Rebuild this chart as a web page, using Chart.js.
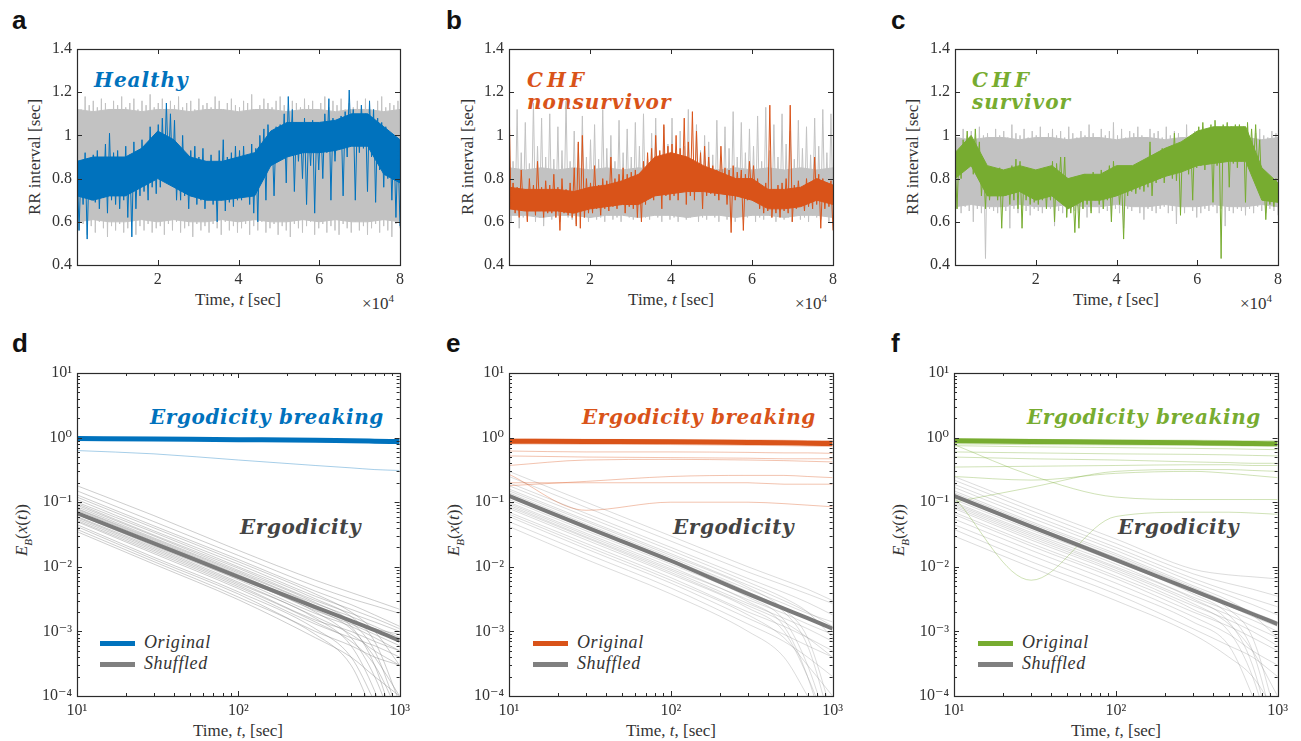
<!DOCTYPE html>
<html>
<head>
<meta charset="utf-8">
<script src="https://cdn.jsdelivr.net/npm/chart.js@4.4.1/dist/chart.umd.min.js"></script>
<style>
  body { margin: 0; background: #fff; }
  #fig { position: relative; width: 1301px; height: 741px; overflow: hidden; font-family: "Liberation Serif", "Times New Roman", Times, "DejaVu Serif", serif; color: #333; }
  #fig canvas { position: absolute; }
  .lab { position: absolute; font-family: "Liberation Sans", Arial, sans-serif; font-weight: bold; font-size: 26px; line-height: 26px; color: #111; }
  .note { position: absolute; font-family: "DejaVu Serif", serif; font-weight: bold; font-style: italic; font-size: 20px; line-height: 22px; letter-spacing: 0.6px; white-space: nowrap; }
  .xt { position: absolute; font-size: 17px; line-height: 18px; white-space: nowrap; transform: translateX(-50%); }
  .yt { position: absolute; font-size: 17px; line-height: 18px; white-space: nowrap; transform: translate(-50%, -50%) rotate(-90deg); }
  .mult { position: absolute; font-size: 17px; line-height: 18px; white-space: nowrap; }
  .leg { position: absolute; font-style: italic; font-size: 18px; line-height: 20px; letter-spacing: 0.6px; white-space: nowrap; }
  .leg span { display: inline-block; width: 35px; height: 5px; vertical-align: middle; margin-right: 9px; }
</style>
</head>
<body>
<div id="fig">
  <div class="lab" style="left:12px;top:7px">a</div>
  <div class="lab" style="left:446px;top:7px">b</div>
  <div class="lab" style="left:891px;top:7px">c</div>
  <div class="lab" style="left:12px;top:330px">d</div>
  <div class="lab" style="left:446px;top:330px">e</div>
  <div class="lab" style="left:891px;top:330px">f</div>

  <div class="note" style="left:94px;top:69px;color:#0072BD;letter-spacing:1px">Healthy</div>
  <div class="note" style="left:527px;top:69px;color:#D95319;letter-spacing:4px">CHF</div>
  <div class="note" style="left:527px;top:91px;color:#D95319;letter-spacing:1px">nonsurvivor</div>
  <div class="note" style="left:972px;top:69px;color:#77AC30;letter-spacing:4px">CHF</div>
  <div class="note" style="left:972px;top:91px;color:#77AC30;letter-spacing:1px">survivor</div>

  <div class="note" style="left:150px;top:406px;color:#0072BD">Ergodicity breaking</div>
  <div class="note" style="left:582px;top:406px;color:#D95319">Ergodicity breaking</div>
  <div class="note" style="left:1027px;top:406px;color:#77AC30">Ergodicity breaking</div>
  <div class="note" style="left:240px;top:516px;color:#444">Ergodicity</div>
  <div class="note" style="left:673px;top:516px;color:#444">Ergodicity</div>
  <div class="note" style="left:1118px;top:516px;color:#444">Ergodicity</div>

  <div class="xt" style="left:238px;top:291px">Time, <i>t</i> [sec]</div>
  <div class="xt" style="left:671px;top:291px">Time, <i>t</i> [sec]</div>
  <div class="xt" style="left:1116px;top:291px">Time, <i>t</i> [sec]</div>
  <div class="mult" style="left:362px;top:289px">×10<sup style="font-size:11px">4</sup></div>
  <div class="mult" style="left:795px;top:289px">×10<sup style="font-size:11px">4</sup></div>
  <div class="mult" style="left:1240px;top:289px">×10<sup style="font-size:11px">4</sup></div>
  <div class="yt" style="left:35px;top:157px">RR interval [sec]</div>
  <div class="yt" style="left:468px;top:157px">RR interval [sec]</div>
  <div class="yt" style="left:913px;top:157px">RR interval [sec]</div>

  <div class="xt" style="left:238px;top:722px">Time, <i>t</i>, [sec]</div>
  <div class="xt" style="left:671px;top:722px">Time, <i>t</i>, [sec]</div>
  <div class="xt" style="left:1116px;top:722px">Time, <i>t</i>, [sec]</div>
  <div class="yt" style="left:25px;top:530px"><i>E<sub style="font-size:11px">B</sub></i>(<i>x</i>(<i>t</i>))</div>
  <div class="yt" style="left:457px;top:530px"><i>E<sub style="font-size:11px">B</sub></i>(<i>x</i>(<i>t</i>))</div>
  <div class="yt" style="left:902px;top:530px"><i>E<sub style="font-size:11px">B</sub></i>(<i>x</i>(<i>t</i>))</div>

  <div class="leg" style="left:100px;top:632px"><span style="background:#0072BD"></span>Original</div>
  <div class="leg" style="left:100px;top:653px"><span style="background:#808080"></span>Shuffled</div>
  <div class="leg" style="left:533px;top:632px"><span style="background:#D95319"></span>Original</div>
  <div class="leg" style="left:533px;top:653px"><span style="background:#808080"></span>Shuffled</div>
  <div class="leg" style="left:978px;top:632px"><span style="background:#77AC30"></span>Original</div>
  <div class="leg" style="left:978px;top:653px"><span style="background:#808080"></span>Shuffled</div>
</div>
<script>
// RR series: spike extremes per 1000 s window
const healthyHi = [
  0.90,0.86,0.92,0.88,0.91,0.93,0.89,0.96,1.01,0.92,
  0.93,0.90,0.95,0.91,0.97,0.92,0.98,0.95,1.04,0.99,
  1.05,1.08,1.15,1.10,1.07,0.92,1.00,0.90,0.93,0.95,
  0.90,0.94,0.88,0.91,0.87,0.93,0.98,0.90,0.92,0.95,
  0.93,0.95,0.90,0.96,0.94,1.00,1.03,1.05,1.01,1.04,
  1.05,1.10,1.18,1.12,1.06,1.04,1.08,1.02,1.07,1.05,
  1.06,1.10,1.17,1.08,1.05,1.09,1.11,1.21,1.12,1.08,
  1.14,1.10,1.16,1.12,1.08,1.06,1.04,1.00,0.98,0.94];
const healthyLo = [
  0.56,0.68,0.52,0.70,0.69,0.66,0.71,0.64,0.70,0.68,
  0.66,0.70,0.62,0.53,0.66,0.72,0.74,0.70,0.76,0.73,
  0.76,0.82,0.84,0.80,0.70,0.70,0.72,0.66,0.72,0.68,
  0.70,0.66,0.72,0.68,0.60,0.70,0.65,0.69,0.67,0.70,
  0.70,0.72,0.68,0.64,0.60,0.84,0.70,0.86,0.72,0.88,
  0.90,0.78,0.92,0.74,0.88,0.80,0.68,0.86,0.64,0.84,
  0.80,0.92,0.70,0.88,0.94,0.72,0.90,0.95,0.70,0.92,
  0.94,0.74,0.90,0.69,0.84,0.76,0.80,0.70,0.62,0.58];
// dense core of the trace, per 4000 s
const healthyCoreHi = [0.88,0.90,0.90,0.90,0.94,1.02,0.98,0.90,0.88,0.88,0.90,0.92,1.02,1.06,1.06,1.06,1.07,1.10,1.10,1.04,0.98];
const healthyCoreLo = [0.72,0.70,0.72,0.72,0.76,0.80,0.76,0.72,0.70,0.70,0.71,0.72,0.86,0.90,0.92,0.92,0.93,0.95,0.95,0.82,0.78];
const healthyShufHi = [
  1.15,1.12,1.18,1.14,1.16,1.13,1.17,1.15,1.12,1.16,
  1.14,1.18,1.13,1.15,1.17,1.12,1.16,1.14,1.19,1.13,
  1.15,1.17,1.12,1.16,1.14,1.18,1.13,1.15,1.16,1.12,
  1.17,1.14,1.15,1.13,1.18,1.16,1.12,1.15,1.17,1.14,
  1.13,1.16,1.15,1.19,1.12,1.14,1.17,1.15,1.13,1.16,
  1.18,1.14,1.12,1.16,1.15,1.13,1.17,1.14,1.16,1.12,
  1.15,1.18,1.13,1.16,1.14,1.17,1.12,1.15,1.13,1.16,
  1.14,1.17,1.15,1.12,1.16,1.18,1.13,1.15,1.14,1.16];
const healthyShufLo = [
  0.56,0.59,0.54,0.58,0.55,0.60,0.57,0.53,0.58,0.56,
  0.59,0.55,0.57,0.60,0.54,0.58,0.56,0.59,0.55,0.57,
  0.58,0.54,0.59,0.56,0.60,0.55,0.57,0.58,0.53,0.59,
  0.56,0.58,0.55,0.59,0.57,0.54,0.60,0.56,0.58,0.55,
  0.57,0.59,0.54,0.58,0.56,0.60,0.55,0.57,0.59,0.54,
  0.58,0.56,0.53,0.59,0.57,0.55,0.58,0.60,0.54,0.57,
  0.59,0.55,0.58,0.56,0.54,0.59,0.57,0.55,0.60,0.56,
  0.58,0.54,0.57,0.59,0.55,0.58,0.56,0.53,0.59,0.57];
const healthyShufCoreHi = [1.12,1.11,1.12,1.12,1.11,1.12,1.12,1.11,1.12,1.12,1.11,1.12,1.12,1.11,1.12,1.12,1.11,1.12,1.12,1.11,1.12];
const healthyShufCoreLo = [0.60,0.61,0.60,0.60,0.61,0.60,0.61,0.60,0.60,0.61,0.60,0.61,0.60,0.60,0.61,0.60,0.61,0.60,0.60,0.61,0.60];

const nonsurvHi = [
  1.17,0.78,0.76,0.84,0.75,0.80,0.77,0.88,0.76,0.79,
  0.77,0.82,0.76,0.80,0.75,0.78,0.85,0.97,1.00,0.80,
  0.78,0.86,0.77,0.80,0.79,0.90,0.80,0.82,0.85,0.82,
  0.83,0.84,0.82,0.88,0.92,0.94,1.00,0.93,1.05,0.95,
  0.96,1.00,0.94,1.08,0.97,1.11,1.02,0.92,0.95,0.90,
  0.86,0.84,0.95,0.85,0.84,0.86,0.83,0.84,0.82,0.88,
  0.86,0.80,0.76,0.78,1.14,0.75,0.77,0.78,0.80,1.14,
  0.77,0.79,0.76,0.80,0.78,0.90,0.82,0.80,0.78,0.79];
const nonsurvLo = [
  0.66,0.64,0.62,0.66,0.60,0.65,0.63,0.66,0.62,0.64,
  0.64,0.62,0.56,0.64,0.63,0.62,0.58,0.57,0.62,0.64,
  0.64,0.66,0.63,0.66,0.65,0.67,0.66,0.68,0.64,0.67,
  0.66,0.62,0.60,0.68,0.72,0.70,0.74,0.66,0.72,0.70,
  0.72,0.70,0.74,0.68,0.72,0.70,0.74,0.66,0.72,0.73,
  0.72,0.70,0.74,0.68,0.55,0.70,0.72,0.56,0.70,0.72,
  0.70,0.66,0.64,0.65,0.62,0.64,0.62,0.65,0.64,0.60,
  0.66,0.68,0.65,0.67,0.66,0.68,0.57,0.66,0.67,0.56];
const nonsurvCoreHi = [0.76,0.75,0.75,0.75,0.74,0.76,0.77,0.79,0.82,0.90,0.92,0.90,0.86,0.83,0.80,0.80,0.75,0.75,0.76,0.80,0.77];
const nonsurvCoreLo = [0.66,0.65,0.65,0.65,0.64,0.66,0.67,0.68,0.68,0.72,0.73,0.74,0.74,0.73,0.72,0.70,0.66,0.66,0.67,0.70,0.68];
const nonsurvShufHi = [
  1.02,0.88,1.12,0.92,1.06,0.87,1.15,0.95,1.08,0.90,
  1.10,0.89,1.04,0.93,1.16,0.88,1.02,0.96,1.09,0.90,
  0.98,1.05,0.89,1.12,0.94,1.00,0.88,1.07,0.92,1.03,
  0.90,1.06,0.95,1.10,0.89,1.01,1.08,0.92,1.04,0.96,
  1.08,0.90,1.02,0.95,1.12,0.89,1.05,0.93,1.00,0.97,
  0.91,1.07,0.89,1.04,0.94,1.11,0.90,1.06,0.92,1.03,
  0.95,1.09,0.88,1.13,0.93,1.05,0.90,1.10,0.96,1.02,
  0.89,1.07,0.94,1.04,0.91,1.08,0.95,1.12,0.92,1.10];
const nonsurvShufLo = [
  0.60,0.63,0.57,0.62,0.61,0.63,0.60,0.62,0.58,0.63,
  0.61,0.62,0.60,0.63,0.62,0.61,0.59,0.63,0.62,0.60,
  0.63,0.61,0.62,0.60,0.63,0.61,0.62,0.60,0.63,0.62,
  0.61,0.63,0.60,0.62,0.61,0.63,0.62,0.60,0.63,0.61,
  0.62,0.60,0.63,0.61,0.62,0.63,0.60,0.62,0.61,0.63,
  0.62,0.60,0.63,0.61,0.62,0.60,0.63,0.61,0.62,0.63,
  0.60,0.62,0.61,0.63,0.62,0.60,0.63,0.61,0.62,0.60,
  0.63,0.61,0.62,0.60,0.63,0.62,0.61,0.63,0.60,0.62];
const nonsurvShufCoreHi = [0.85,0.84,0.85,0.84,0.85,0.84,0.85,0.84,0.85,0.84,0.85,0.84,0.85,0.84,0.85,0.84,0.85,0.84,0.85,0.84,0.85];
const nonsurvShufCoreLo = [0.63,0.63,0.62,0.63,0.63,0.62,0.63,0.63,0.62,0.63,0.63,0.62,0.63,0.63,0.62,0.63,0.63,0.62,0.63,0.63,0.62];

const survHi = [
  0.90,0.93,0.98,1.02,0.99,1.03,0.97,0.86,0.85,0.84,
  0.83,0.85,0.82,0.84,0.86,0.89,0.88,0.84,0.82,0.83,
  0.84,0.82,0.85,0.83,0.88,0.87,0.90,0.90,0.78,0.76,
  0.78,0.80,0.82,0.80,0.83,0.81,0.84,0.82,0.86,0.88,
  0.82,0.80,0.84,0.85,0.86,0.85,0.88,0.87,0.97,0.90,
  0.92,0.94,0.93,0.95,1.01,0.96,0.97,0.98,0.99,1.00,
  1.04,1.06,1.03,1.05,1.07,1.02,1.05,1.06,1.04,1.05,
  1.05,1.04,1.06,1.03,1.05,0.98,0.82,0.78,0.77,0.80];
const survLo = [
  0.66,0.80,0.84,0.86,0.82,0.85,0.72,0.66,0.70,0.72,
  0.70,0.57,0.72,0.68,0.70,0.66,0.57,0.70,0.68,0.69,
  0.68,0.70,0.66,0.70,0.60,0.74,0.72,0.62,0.64,0.55,
  0.57,0.66,0.68,0.64,0.70,0.68,0.66,0.70,0.60,0.74,
  0.68,0.52,0.72,0.74,0.73,0.75,0.74,0.76,0.72,0.78,
  0.80,0.78,0.82,0.80,0.79,0.63,0.84,0.82,0.70,0.85,
  0.86,0.84,0.88,0.69,0.86,0.43,0.88,0.76,0.87,0.85,
  0.88,0.69,0.87,0.86,0.84,0.74,0.61,0.68,0.67,0.69];
const survCoreHi = [0.92,1.00,0.86,0.84,0.86,0.84,0.86,0.80,0.82,0.82,0.86,0.86,0.90,0.94,0.97,1.02,1.04,1.04,1.04,0.85,0.78];
const survCoreLo = [0.80,0.86,0.72,0.72,0.74,0.70,0.72,0.66,0.70,0.70,0.72,0.75,0.78,0.81,0.83,0.86,0.87,0.88,0.88,0.70,0.69];
const survShufHi = [
  1.01,0.99,1.03,1.00,1.02,0.99,1.04,1.00,1.01,0.98,
  1.03,1.00,1.02,0.99,1.05,1.01,1.00,1.03,0.99,1.02,
  1.00,1.04,0.99,1.01,1.03,1.00,1.02,0.99,1.04,1.01,
  0.99,1.02,1.00,1.05,1.01,0.99,1.03,1.00,1.02,1.06,
  1.00,1.03,0.99,1.02,1.01,1.04,1.00,0.99,1.03,1.01,
  1.02,0.99,1.04,1.00,1.02,1.01,0.99,1.05,1.00,1.02,
  1.01,1.04,0.99,1.02,1.00,1.03,1.01,0.99,1.02,1.00,
  1.03,1.00,1.02,0.99,1.01,1.03,1.00,0.99,1.02,1.01];
const survShufLo = [
  0.66,0.64,0.67,0.65,0.60,0.66,0.64,0.43,0.66,0.65,
  0.64,0.67,0.65,0.57,0.66,0.64,0.67,0.65,0.63,0.66,
  0.65,0.64,0.67,0.66,0.58,0.65,0.64,0.66,0.67,0.65,
  0.64,0.66,0.62,0.65,0.67,0.64,0.66,0.65,0.60,0.66,
  0.64,0.57,0.66,0.65,0.67,0.64,0.61,0.66,0.65,0.64,
  0.66,0.67,0.64,0.65,0.59,0.66,0.64,0.67,0.65,0.62,
  0.64,0.66,0.65,0.67,0.64,0.66,0.58,0.65,0.64,0.66,
  0.65,0.63,0.66,0.64,0.67,0.65,0.64,0.66,0.65,0.63];
const survShufCoreHi = [0.99,0.98,0.99,0.99,0.98,0.99,0.99,0.98,0.99,0.99,0.98,0.99,0.99,0.98,0.99,0.99,0.98,0.99,0.99,0.98,0.99];
const survShufCoreLo = [0.67,0.68,0.67,0.67,0.68,0.67,0.67,0.68,0.67,0.67,0.68,0.67,0.67,0.68,0.67,0.67,0.68,0.67,0.67,0.68,0.67];

const rrXTicks = [20000, 40000, 60000, 80000];
const rrYTicks = [0.4, 0.6, 0.8, 1, 1.2, 1.4];

// Ergodicity curves, sampled at these times
const logTime = [10, 30, 100, 300, 500, 700, 1000];
const logXTicks = [10, 100, 1000];
const logYTicks = [1e-4, 1e-3, 1e-2, 1e-1, 1, 10];

const healthyOrigMean = [0.97, 0.95, 0.93, 0.91, 0.89, 0.88, 0.87];
const healthyOrigLines = [
  [1.00, 0.98, 0.96, 0.95, 0.94, 0.93, 0.93],
  [0.93, 0.91, 0.89, 0.87, 0.85, 0.84, 0.82],
  [0.98, 0.96, 0.94, 0.92, 0.91, 0.90, 0.89],
  [0.63, 0.56, 0.45, 0.37, 0.34, 0.32, 0.31]];
const healthyShufMean = [0.068, 0.023, 0.0070, 0.00237, 0.00146, 0.00105, 0.00072];
const healthyShufLines = [
  [0.18, 0.062, 0.018, 0.0062, 0.0040, 0.0030, 0.0022],
  [0.15, 0.050, 0.015, 0.0050, 0.0032, 0.0025, 0.0019],
  [0.13, 0.043, 0.013, 0.0042, 0.0026, 0.0018, 0.0012],
  [0.12, 0.040, 0.012, 0.0038, 0.0020, 0.0010, 0.00030],
  [0.11, 0.036, 0.011, 0.0035, 0.0022, 0.0016, 0.0011],
  [0.10, 0.034, 0.010, 0.0032, 0.0017, 0.0007, 0.00008],
  [0.095, 0.031, 0.0095, 0.0030, 0.0019, 0.0014, 0.0010],
  [0.09, 0.030, 0.0088, 0.0028, 0.0014, 0.0005, 0.00005],
  [0.085, 0.028, 0.0084, 0.0027, 0.0017, 0.0012, 0.0008],
  [0.08, 0.027, 0.0080, 0.0025, 0.0012, 0.0003, 0.00002],
  [0.078, 0.026, 0.0076, 0.0024, 0.0015, 0.0011, 0.0009],
  [0.075, 0.025, 0.0073, 0.0022, 0.0011, 0.0004, 0.0001],
  [0.07, 0.023, 0.0069, 0.0021, 0.0013, 0.0009, 0.0006],
  [0.068, 0.022, 0.0066, 0.0020, 0.0008, 0.0002, 0.00002],
  [0.065, 0.021, 0.0063, 0.0019, 0.0012, 0.0008, 0.0005],
  [0.06, 0.020, 0.0058, 0.0017, 0.0009, 0.0005, 0.0003],
  [0.058, 0.019, 0.0055, 0.0016, 0.0006, 0.00012, 0.00001],
  [0.055, 0.018, 0.0052, 0.0015, 0.0010, 0.0007, 0.0005],
  [0.052, 0.017, 0.0049, 0.0014, 0.0007, 0.0003, 0.00005],
  [0.05, 0.016, 0.0046, 0.0013, 0.0008, 0.0006, 0.0004],
  [0.045, 0.014, 0.0041, 0.0011, 0.0004, 0.00008, 0.00001],
  [0.042, 0.013, 0.0038, 0.0010, 0.0006, 0.0004, 0.0003],
  [0.038, 0.012, 0.0034, 0.0009, 0.0003, 0.00005, 0.00001],
  [0.035, 0.011, 0.0031, 0.0008, 0.0004, 0.0002, 0.0001]];

const nonsurvOrigMean = [0.88, 0.87, 0.86, 0.84, 0.83, 0.82, 0.81];
const nonsurvOrigLines = [
  [0.95, 0.94, 0.93, 0.92, 0.91, 0.90, 0.90],
  [0.80, 0.79, 0.78, 0.76, 0.75, 0.74, 0.73],
  [0.92, 0.91, 0.89, 0.88, 0.87, 0.86, 0.86],
  [0.62, 0.60, 0.60, 0.59, 0.58, 0.58, 0.57],
  [0.37, 0.45, 0.46, 0.45, 0.44, 0.43, 0.42],
  [0.52, 0.50, 0.49, 0.48, 0.47, 0.47, 0.47],
  [0.18, 0.21, 0.25, 0.26, 0.26, 0.25, 0.24],
  [0.20, 0.20, 0.20, 0.20, 0.19, 0.19, 0.19],
  [0.27, 0.075, 0.10, 0.10, 0.095, 0.09, 0.085]];
const nonsurvShufMean = [0.125, 0.041, 0.0124, 0.0038, 0.00225, 0.0016, 0.0011];
const nonsurvShufLines = [
  [0.30, 0.10, 0.030, 0.010, 0.0062, 0.0045, 0.0030],
  [0.25, 0.083, 0.025, 0.0083, 0.0052, 0.0038, 0.0027],
  [0.20, 0.067, 0.020, 0.0066, 0.0040, 0.0028, 0.0018],
  [0.18, 0.060, 0.018, 0.0058, 0.0033, 0.0020, 0.0008],
  [0.16, 0.053, 0.016, 0.0052, 0.0030, 0.0020, 0.0012],
  [0.15, 0.050, 0.015, 0.0048, 0.0022, 0.0008, 0.00005],
  [0.14, 0.046, 0.014, 0.0045, 0.0027, 0.0019, 0.0014],
  [0.13, 0.043, 0.013, 0.0041, 0.0020, 0.0006, 0.00003],
  [0.12, 0.040, 0.012, 0.0038, 0.0023, 0.0016, 0.0011],
  [0.11, 0.036, 0.011, 0.0034, 0.0015, 0.0003, 0.00002],
  [0.10, 0.033, 0.010, 0.0031, 0.0019, 0.0013, 0.0009],
  [0.095, 0.031, 0.0093, 0.0029, 0.0012, 0.0002, 0.00001],
  [0.09, 0.029, 0.0088, 0.0027, 0.0016, 0.0011, 0.0007],
  [0.085, 0.028, 0.0082, 0.0025, 0.0014, 0.0008, 0.0004],
  [0.08, 0.026, 0.0077, 0.0023, 0.0010, 0.0002, 0.00002],
  [0.07, 0.023, 0.0068, 0.0020, 0.0012, 0.0008, 0.0005],
  [0.065, 0.021, 0.0062, 0.0018, 0.0008, 0.0003, 0.0001],
  [0.06, 0.019, 0.0056, 0.0016, 0.0009, 0.0006, 0.0004],
  [0.05, 0.016, 0.0047, 0.0013, 0.0007, 0.0004, 0.0002],
  [0.042, 0.013, 0.0038, 0.0010, 0.0004, 0.0001, 0.00002]];

const survOrigMean = [0.89, 0.87, 0.85, 0.83, 0.82, 0.81, 0.80];
const survOrigLines = [
  [0.95, 0.94, 0.92, 0.91, 0.90, 0.89, 0.89],
  [0.80, 0.78, 0.77, 0.76, 0.75, 0.74, 0.74],
  [0.75, 0.72, 0.70, 0.68, 0.67, 0.66, 0.65],
  [0.60, 0.58, 0.56, 0.55, 0.54, 0.53, 0.52],
  [0.50, 0.47, 0.45, 0.42, 0.41, 0.40, 0.40],
  [0.12, 0.0062, 0.06, 0.07, 0.07, 0.068, 0.065],
  [0.78, 0.26, 0.12, 0.11, 0.11, 0.11, 0.11],
  [0.25, 0.22, 0.28, 0.30, 0.28, 0.26, 0.24],
  [0.10, 0.17, 0.30, 0.32, 0.32, 0.31, 0.30],
  [0.35, 0.36, 0.37, 0.38, 0.38, 0.37, 0.37]];
const survShufMean = [0.125, 0.042, 0.0128, 0.0043, 0.00259, 0.00186, 0.0013];
const survShufLines = [
  [0.25, 0.085, 0.027, 0.0092, 0.0075, 0.0070, 0.0065],
  [0.22, 0.074, 0.023, 0.0078, 0.0055, 0.0045, 0.0035],
  [0.19, 0.064, 0.020, 0.0066, 0.0042, 0.0032, 0.0024],
  [0.17, 0.057, 0.018, 0.0058, 0.0036, 0.0026, 0.0018],
  [0.15, 0.050, 0.016, 0.0051, 0.0030, 0.0018, 0.0008],
  [0.14, 0.047, 0.015, 0.0048, 0.0028, 0.0020, 0.0014],
  [0.13, 0.044, 0.014, 0.0045, 0.0022, 0.0008, 0.00004],
  [0.12, 0.040, 0.013, 0.0041, 0.0025, 0.0017, 0.0012],
  [0.11, 0.037, 0.012, 0.0038, 0.0018, 0.0005, 0.00002],
  [0.10, 0.034, 0.011, 0.0034, 0.0021, 0.0015, 0.0010],
  [0.095, 0.032, 0.010, 0.0032, 0.0014, 0.0003, 0.00001],
  [0.09, 0.030, 0.0095, 0.0030, 0.0018, 0.0012, 0.0008],
  [0.085, 0.028, 0.0088, 0.0027, 0.0013, 0.0005, 0.0001],
  [0.08, 0.026, 0.0082, 0.0025, 0.0015, 0.0010, 0.0006],
  [0.07, 0.023, 0.0072, 0.0022, 0.0010, 0.0002, 0.00001],
  [0.065, 0.021, 0.0066, 0.0020, 0.0012, 0.0008, 0.0005],
  [0.055, 0.018, 0.0056, 0.0017, 0.0009, 0.0005, 0.0003],
  [0.045, 0.015, 0.0046, 0.0014, 0.0006, 0.0001, 0.00001],
  [0.038, 0.012, 0.0038, 0.0011, 0.0006, 0.0004, 0.0002],
  [0.03, 0.0098, 0.0030, 0.0009, 0.0004, 0.0002, 0.00005]];

const BLUE = '#0072BD', ORANGE = '#D95319', GREEN = '#77AC30';
const SERIF = '"Liberation Serif", "Times New Roman", Times, "DejaVu Serif", serif';

// canvas margins around each plot box
const PADL = 80, PADR = 15, PADT = 15, PADB = 32;
const fig = document.getElementById('fig');

function makeCanvas(box) {
  const c = document.createElement('canvas');
  c.width = box.w + PADL + PADR;
  c.height = box.h + PADT + PADB;
  c.style.left = (box.l - PADL) + 'px';
  c.style.top = (box.t - PADT) + 'px';
  fig.appendChild(c);
  return c;
}

// MATLAB-like frame with inward ticks on all four sides
const boxTicks = {
  id: 'boxTicks',
  afterDatasetsDraw(chart) {
    const { ctx, chartArea: a, scales } = chart;
    ctx.save();
    ctx.strokeStyle = '#2b2b2b';
    ctx.lineWidth = 1;
    ctx.beginPath();
    const mark = (scale, v, len) => {
      const p = Math.round(scale.getPixelForValue(v)) + 0.5;
      if (scale.isHorizontal()) {
        ctx.moveTo(p, a.bottom); ctx.lineTo(p, a.bottom - len);
        ctx.moveTo(p, a.top); ctx.lineTo(p, a.top + len);
      } else {
        ctx.moveTo(a.left, p); ctx.lineTo(a.left + len, p);
        ctx.moveTo(a.right, p); ctx.lineTo(a.right - len, p);
      }
    };
    [scales.x, scales.y].forEach(s => {
      const vals = s.ticks.map(t => t.value);
      vals.forEach(v => mark(s, v, 5));
      if (s.type === 'logarithmic') {
        vals.slice(0, -1).forEach(d => {
          for (let k = 2; k < 10; k++) mark(s, d * k, 3);
        });
      }
    });
    ctx.stroke();
    ctx.lineWidth = 1.2;
    ctx.strokeRect(Math.round(a.left) + 0.5, Math.round(a.top) + 0.5, Math.round(a.width), Math.round(a.height));
    ctx.restore();
  }
};

const sup = { '-': '⁻', '0': '⁰', '1': '¹', '2': '²', '3': '³', '4': '⁴' };
const pow10 = v => '10' + String(Math.round(Math.log10(v))).split('').map(ch => sup[ch]).join('');

function axis(type, min, max, ticks, label, isX) {
  return {
    type: type, min: min, max: max,
    grid: { display: false, drawTicks: false },
    border: { display: false },
    ticks: { padding: 5, color: '#333', font: { family: SERIF, size: 16 },
             maxRotation: 0, autoSkip: false, callback: label },
    afterBuildTicks: s => { s.ticks = ticks.map(v => ({ value: v })); },
    afterFit: s => { if (isX) s.height = PADB; else s.width = PADL; }
  };
}

function baseOptions(x, y) {
  return {
    responsive: false, animation: false, events: [],
    layout: { padding: { top: PADT, right: PADR, left: 0, bottom: 0 } },
    plugins: { legend: { display: false }, tooltip: { enabled: false } },
    scales: { x: x, y: y }
  };
}

// spread a list of values evenly over the 0..80000 s record
const spread = vals => vals.map((v, i) => ({ x: i * 80000 / (vals.length - 1), y: v }));

// thin spikes: each 1000 s window goes up to its high and down to its low
function zigzag(hi, lo) {
  const n = hi.length * 2 - 1, pts = [];
  hi.forEach((h, i) => {
    pts.push({ x: (2 * i) * 80000 / n, y: h });
    pts.push({ x: (2 * i + 1) * 80000 / n, y: lo[i] });
  });
  return pts;
}

function rrChart(box, s, color) {
  const gray = '#c2c2c2';
  new Chart(makeCanvas(box), {
    type: 'line',
    data: { datasets: [
      { data: zigzag(s.hi, s.lo), borderColor: color, borderWidth: 1 },
      { data: spread(s.coreHi), borderColor: color, backgroundColor: color, borderWidth: 1, fill: '+1' },
      { data: spread(s.coreLo), borderColor: color, borderWidth: 1 },
      { data: zigzag(s.shufHi, s.shufLo), borderColor: gray, borderWidth: 1 },
      { data: spread(s.shufCoreHi), borderColor: gray, backgroundColor: gray, borderWidth: 1, fill: '+1' },
      { data: spread(s.shufCoreLo), borderColor: gray, borderWidth: 1 }
    ].map(d => Object.assign(d, { pointRadius: 0 })) },
    options: baseOptions(
      axis('linear', 0, 80000, rrXTicks, v => String(v / 1e4), true),
      axis('linear', 0.4, 1.4, rrYTicks, v => String(v), false)),
    plugins: [boxTicks]
  });
}

const curve = vals => logTime.map((t, i) => ({ x: t, y: vals[i] }));

function ergChart(box, origMean, origLines, shufMean, shufLines, color, faint, shufFaint) {
  const ds = [];
  ds.push({ data: curve(origMean), borderColor: color, borderWidth: 5 });
  ds.push({ data: curve(shufMean), borderColor: '#7a7a7a', borderWidth: 4 });
  origLines.forEach(l => ds.push({ data: curve(l), borderColor: faint, borderWidth: 1 }));
  shufLines.forEach(l => ds.push({ data: curve(l), borderColor: shufFaint, borderWidth: 1 }));
  ds.forEach(d => { d.pointRadius = 0; d.cubicInterpolationMode = 'monotone'; });
  new Chart(makeCanvas(box), {
    type: 'line',
    data: { datasets: ds },
    options: baseOptions(
      axis('logarithmic', 10, 1000, logXTicks, pow10, true),
      axis('logarithmic', 1e-4, 10, logYTicks, pow10, false)),
    plugins: [boxTicks]
  });
}

rrChart({ l: 77, t: 49, w: 323, h: 216 }, {
  hi: healthyHi, lo: healthyLo, coreHi: healthyCoreHi, coreLo: healthyCoreLo,
  shufHi: healthyShufHi, shufLo: healthyShufLo, shufCoreHi: healthyShufCoreHi, shufCoreLo: healthyShufCoreLo }, BLUE);
rrChart({ l: 509, t: 49, w: 324, h: 216 }, {
  hi: nonsurvHi, lo: nonsurvLo, coreHi: nonsurvCoreHi, coreLo: nonsurvCoreLo,
  shufHi: nonsurvShufHi, shufLo: nonsurvShufLo, shufCoreHi: nonsurvShufCoreHi, shufCoreLo: nonsurvShufCoreLo }, ORANGE);
rrChart({ l: 955, t: 49, w: 323, h: 216 }, {
  hi: survHi, lo: survLo, coreHi: survCoreHi, coreLo: survCoreLo,
  shufHi: survShufHi, shufLo: survShufLo, shufCoreHi: survShufCoreHi, shufCoreLo: survShufCoreLo }, GREEN);

ergChart({ l: 77, t: 373, w: 323, h: 323 }, healthyOrigMean, healthyOrigLines, healthyShufMean, healthyShufLines,
  BLUE, 'rgba(0,114,189,0.35)', 'rgba(130,130,130,0.4)');
ergChart({ l: 509, t: 373, w: 324, h: 323 }, nonsurvOrigMean, nonsurvOrigLines, nonsurvShufMean, nonsurvShufLines,
  ORANGE, 'rgba(217,83,25,0.35)', 'rgba(140,140,140,0.3)');
ergChart({ l: 954, t: 373, w: 324, h: 323 }, survOrigMean, survOrigLines, survShufMean, survShufLines,
  GREEN, 'rgba(119,172,48,0.35)', 'rgba(140,140,140,0.3)');
</script>
</body>
</html>
